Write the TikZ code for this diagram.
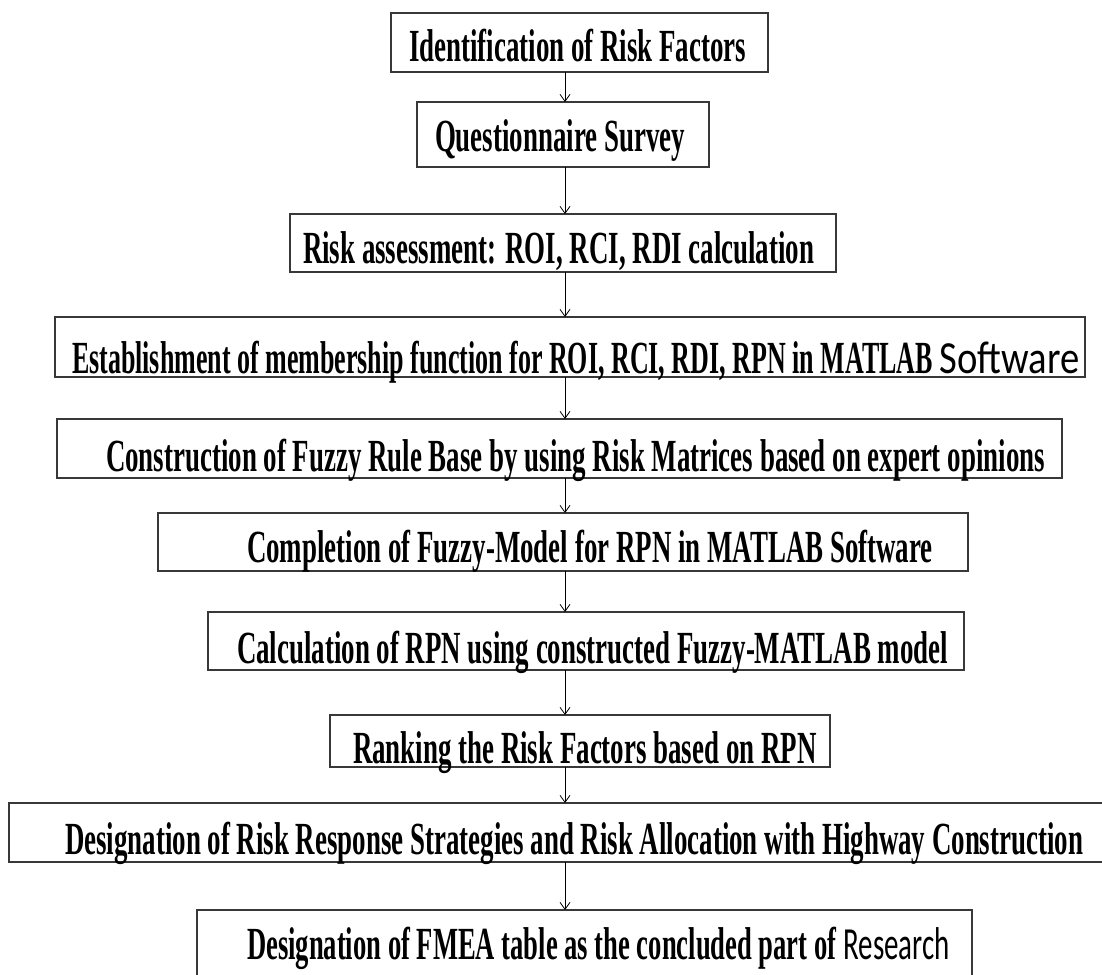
\documentclass[tikz,border=0pt]{standalone}
\usepackage{fontspec}
\usepackage{graphicx}
\setmainfont{Liberation Serif}
\newfontfamily\calfont{Carlito}
\usetikzlibrary{arrows.meta}
\newcommand\tx[2][0.585]{\scalebox{#1}[1]{\fontsize{46}{54}\selectfont\bfseries #2}}
\newcommand\sw[2][0.72]{\scalebox{#1}[1]{\fontsize{46}{54}\selectfont\calfont #2}}
\begin{document}
\begin{tikzpicture}[x=1pt,y=-1pt,
  box/.style={draw=black!78, line width=1.8pt, inner sep=0pt, outer sep=0pt, anchor=north west},
  lbl/.style={anchor=base west, inner sep=0pt, outer sep=0pt},
  arr/.style={draw=black, line width=0.8pt, -{Straight Barb[length=7pt,width=10pt]}}]
\useasboundingbox (0,0) rectangle (1102,974);
\clip (0,0) rectangle (1102,974);
\coordinate (ax) at (565,0);
% boxes
\node[box, minimum width=377pt, minimum height=59pt] (b1) at (391,13) {};
\node[box, minimum width=292pt, minimum height=65pt] (b2) at (417,102) {};
\node[box, minimum width=546pt, minimum height=58pt] (b3) at (290,214) {};
\node[box, minimum width=1030pt, minimum height=60pt] (b4) at (55,317) {};
\node[box, minimum width=1005pt, minimum height=59pt] (b5) at (57,419) {};
\node[box, minimum width=810pt, minimum height=58pt] (b6) at (158,513) {};
\node[box, minimum width=756pt, minimum height=58pt] (b7) at (208,612) {};
\node[box, minimum width=500pt, minimum height=52pt] (b8) at (330,715) {};
\node[box, minimum width=1110pt, minimum height=59pt] (b9) at (9,803) {};
\node[box, minimum width=775pt, minimum height=80pt] (b10) at (197,910) {};
% texts
\node[lbl] (t1) at (409,61) {\tx{Identification of Risk Factors}};
\node[lbl] (t2) at (435,151) {\tx{Questionnaire Survey}};
\node[lbl] (t3) at (303,263) {\tx{Risk assessment: ROI, RCI, RDI calculation}};
\node[lbl] (t4) at (72,373) {\tx[0.565]{Establishment of membership function for ROI, RCI, RDI, RPN in MATLAB}\hspace{7pt}\sw[0.84]{Software}};
\node[lbl] (t5) at (106,471) {\tx{Construction of Fuzzy Rule Base by using Risk Matrices based on expert opinions}};
\node[lbl] (t6) at (247,562) {\tx{Completion of Fuzzy-Model for RPN in MATLAB Software}};
\node[lbl] (t7) at (237,663) {\tx{Calculation of RPN using constructed Fuzzy-MATLAB model}};
\node[lbl] (t8) at (353,763) {\tx{Ranking the Risk Factors based on RPN}};
\node[lbl] (t9) at (65,854) {\tx{Designation of Risk Response Strategies and Risk Allocation with Highway Construction}};
\node[lbl] (t10) at (247,959) {\tx[0.578]{Designation of FMEA table as the concluded part of}\hspace{7pt}\sw[0.63]{Research}};
% arrows
\draw[arr] (b1.south -| ax) -- (b2.north -| ax);
\draw[arr] (b2.south -| ax) -- (b3.north -| ax);
\draw[arr] (b3.south -| ax) -- (b4.north -| ax);
\draw[arr] (b4.south -| ax) -- (b5.north -| ax);
\draw[arr] (b5.south -| ax) -- (b6.north -| ax);
\draw[arr] (b6.south -| ax) -- (b7.north -| ax);
\draw[arr] (b7.south -| ax) -- (b8.north -| ax);
\draw[arr] (b8.south -| ax) -- (b9.north -| ax);
\draw[arr] (b9.south -| ax) -- (b10.north -| ax);
\end{tikzpicture}
\end{document}
